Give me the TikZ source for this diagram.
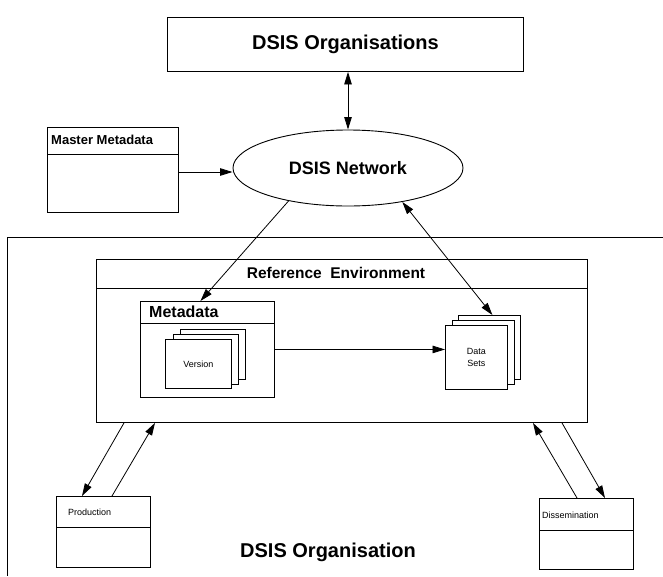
\documentclass[tikz,border=0pt]{standalone}
\usepackage{fontspec}
\setmainfont{Liberation Sans}
\usetikzlibrary{arrows.meta,calc,shapes.geometric}
\tikzset{
  box/.style={draw, line width=0.9pt, fill=white, inner sep=0pt, anchor=north west},
  divl/.style={line width=0.9pt},
  card/.style={draw, line width=0.8pt, fill=white, inner sep=0pt, anchor=north west},
  arr/.style={line width=0.8pt, -{Triangle[length=12.5pt,width=7.5pt]}},
  darr/.style={line width=0.8pt, {Triangle[length=12.5pt,width=7.5pt]}-{Triangle[length=12.5pt,width=7.5pt]}},
  bigfont/.style={font=\bfseries\fontsize{20}{24}\selectfont},
  smallfont/.style={font=\fontsize{9}{11}\selectfont},
}
\begin{document}
\begin{tikzpicture}[x=1pt,y=-1pt]
\useasboundingbox (0,0) rectangle (663,576);
% outer organisation frame
\draw[line width=0.9pt] (663,237) -- (7,237) -- (7,576);
\node[bigfont, inner sep=0pt] (orgl) at (328,552) {DSIS Organisation};

% top
\node[box, minimum width=356pt, minimum height=54pt, bigfont] (orgs) at (167,17) {DSIS Organisations};
\node[draw, ellipse, line width=0.9pt, fill=white, inner sep=0pt, minimum width=230pt, minimum height=76pt,
      font=\bfseries\fontsize{18}{22}\selectfont] (net) at (348,168) {DSIS Network};
\draw[darr] (net.north |- orgs.south) -- (net.north);

% master metadata
\node[box, minimum width=131pt, minimum height=85pt] (master) at (47,127) {};
\draw[divl] (master.west |- 0,154) -- (master.east |- 0,154);
\node[anchor=west, inner sep=0pt, font=\bfseries\fontsize{13}{15}\selectfont] (mastert) at (51,140) {Master Metadata};
\draw[arr] (master.east |- 0,172) -- (net.west |- 0,172);

% reference environment
\node[box, minimum width=491pt, minimum height=163pt] (ref) at (96,259) {};
\draw[divl] (ref.west |- 0,288) -- (ref.east |- 0,288);
\node[inner sep=0pt, font=\bfseries\fontsize{15.5}{18}\selectfont] (reft) at (336,273) {Reference\ \ Environment};

% metadata
\node[box, minimum width=134pt, minimum height=96pt] (meta) at (140,301) {};
\draw[divl] (meta.west |- 0,323) -- (meta.east |- 0,323);
\node[anchor=west, inner sep=0pt, font=\bfseries\fontsize{16}{18}\selectfont] (metat) at (149,312) {Metadata};
\node[card, minimum width=65pt, minimum height=50pt] (v3) at (180,329) {};
\node[card, minimum width=65pt, minimum height=50pt] (v2) at (173,334) {};
\node[card, minimum width=66pt, minimum height=49pt, smallfont] (v1) at (165,339) {Version};

% data sets
\node[card, minimum width=62pt, minimum height=64pt] (d3) at (458,315) {};
\node[card, minimum width=62pt, minimum height=64pt] (d2) at (452,320) {};
\node[card, minimum width=62pt, minimum height=64pt, smallfont, align=center] (d1) at (445,325) {Data\\[1pt]Sets};

\draw[arr] (meta.east) -- (meta.east -| d1.west);
\draw[arr] (net.209) -- ([xshift=-7pt]meta.north);
\draw[darr] (net.328) -- ([xshift=3pt]d3.north);

% production
\node[box, minimum width=94pt, minimum height=71pt] (prod) at (56,496) {};
\draw[divl] (prod.west |- 0,527) -- (prod.east |- 0,527);
\node[anchor=west, inner sep=0pt, smallfont] (prodt) at (68,512) {Production};
\draw[arr] ($(ref.south west)+(28,0)$) -- ($(prod.north west)+(26,0)$);
\draw[arr] ($(prod.north west)+(56,0)$) -- ($(ref.south west)+(59,0)$);

% dissemination
\node[box, minimum width=94pt, minimum height=71pt] (diss) at (539,498) {};
\draw[divl] (diss.west |- 0,530) -- (diss.east |- 0,530);
\node[anchor=west, inner sep=0pt, smallfont] (disst) at (542,515) {Dissemination};
\draw[arr] ($(diss.north west)+(38,0)$) -- ($(ref.south west)+(437,0)$);
\draw[arr] ($(ref.south west)+(466,0)$) -- ($(diss.north west)+(66,0)$);
\end{tikzpicture}
\end{document}
